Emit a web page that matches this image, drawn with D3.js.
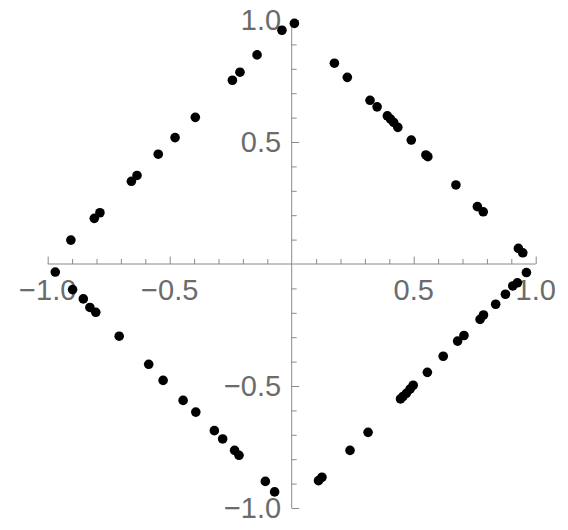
<!DOCTYPE html>
<html>
<head>
<meta charset="utf-8">
<script src="https://cdn.jsdelivr.net/npm/d3@7/dist/d3.min.js"></script>
<style>
  html, body { margin: 0; padding: 0; background: #fff; }
  svg { display: block; }
</style>
</head>
<body>
<svg id="chart" width="568" height="530"></svg>
<script>
// Data: points
const xValues = [
  0.011, -0.040, -0.142, -0.212, -0.243, -0.395, -0.478, -0.547, -0.634, -0.657, -0.786, -0.809, -0.905,
  0.175, 0.228, 0.321, 0.350, 0.392, 0.405, 0.418, 0.435, 0.490, 0.550, 0.558, 0.673, 0.761, 0.785, 0.929, 0.947,
  0.962, 0.925, 0.906, 0.876, 0.836, 0.786, 0.772, 0.706, 0.680, 0.621, 0.556, 0.498, 0.485, 0.470, 0.456, 0.446, 0.313, 0.239, 0.124, 0.110,
  -0.969, -0.898, -0.854, -0.827, -0.803, -0.707, -0.586, -0.527, -0.445, -0.393, -0.317, -0.283, -0.234, -0.216, -0.108, -0.070
];
const yValues = [
  0.986, 0.958, 0.857, 0.786, 0.753, 0.601, 0.518, 0.450, 0.363, 0.339, 0.210, 0.187, 0.098,
  0.823, 0.765, 0.671, 0.644, 0.607, 0.594, 0.580, 0.560, 0.508, 0.447, 0.440, 0.324, 0.235, 0.214, 0.064, 0.046,
  -0.035, -0.077, -0.090, -0.124, -0.165, -0.209, -0.227, -0.293, -0.316, -0.378, -0.444, -0.497, -0.513, -0.530, -0.543, -0.553, -0.690, -0.764, -0.874, -0.888,
  -0.033, -0.105, -0.143, -0.178, -0.198, -0.296, -0.411, -0.477, -0.559, -0.607, -0.683, -0.717, -0.764, -0.784, -0.891, -0.934
];
const majorTicks = [-1.0, -0.5, 0.5, 1.0];
const majorTickLabels = ["\u22121.0", "\u22120.5", "0.5", "1.0"];
const minorTicks = [-0.9, -0.8, -0.7, -0.6, -0.4, -0.3, -0.2, -0.1, 0.1, 0.2, 0.3, 0.4, 0.6, 0.7, 0.8, 0.9];

const points = xValues.map((x, i) => ({x, y: yValues[i]}));

const svg = d3.select("#chart");
const x = d3.scaleLinear().domain([-1, 1]).range([47.7, 535.7]);
const y = d3.scaleLinear().domain([-1, 1]).range([508, 20]);

const axisColor = "#8a8a8a";
const labelColor = "#6b6b6b";
const font = "'Liberation Sans', Arial, Helvetica, sans-serif";

function styleAxis(g) {
  g.select(".domain").remove();
  g.selectAll(".tick line").attr("stroke", axisColor).attr("stroke-width", 1);
  g.selectAll(".tick text").remove();
}

// X axis: ticks point upward
const gx = svg.append("g").attr("transform", `translate(0,${y(0)})`);
gx.append("g").call(d3.axisTop(x).tickValues(minorTicks).tickSize(5).tickFormat("")).call(styleAxis);
gx.append("g").call(d3.axisTop(x).tickValues(majorTicks).tickSize(7.5).tickFormat("")).call(styleAxis);
gx.append("line").attr("x1", x(-1)).attr("x2", x(1)).attr("stroke", axisColor).attr("stroke-width", 1);

// Y axis: ticks point right
const gy = svg.append("g").attr("transform", `translate(${x(0)},0)`);
gy.append("g").call(d3.axisRight(y).tickValues(minorTicks).tickSize(5).tickFormat("")).call(styleAxis);
gy.append("g").call(d3.axisRight(y).tickValues(majorTicks).tickSize(7.5).tickFormat("")).call(styleAxis);
gy.append("line").attr("y1", y(-1)).attr("y2", y(1)).attr("stroke", axisColor).attr("stroke-width", 1);

// Tick labels
svg.append("g").selectAll("text").data(majorTicks).join("text")
  .attr("x", d => x(d))
  .attr("y", y(0) + 36)
  .attr("text-anchor", "middle")
  .attr("font-family", font)
  .attr("font-size", 29)
  .attr("fill", labelColor)
  .text((d, i) => majorTickLabels[i]);

svg.append("g").selectAll("text").data(majorTicks).join("text")
  .attr("x", x(0) - 10.5)
  .attr("y", d => y(d) + 10.4)
  .attr("text-anchor", "end")
  .attr("font-family", font)
  .attr("font-size", 29)
  .attr("fill", labelColor)
  .text((d, i) => majorTickLabels[i]);

// Points
svg.append("g").selectAll("circle").data(points).join("circle")
  .attr("cx", d => x(d.x))
  .attr("cy", d => y(d.y))
  .attr("r", 4.8)
  .attr("fill", "#000");
</script>
</body>
</html>
